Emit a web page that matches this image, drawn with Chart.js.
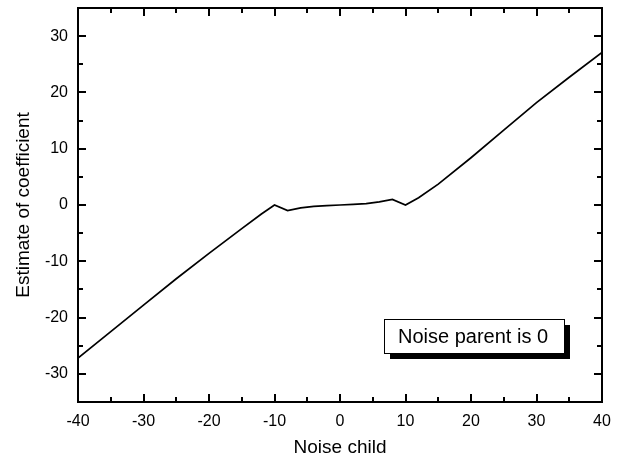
<!DOCTYPE html>
<html>
<head>
<meta charset="utf-8">
<script src="https://cdn.jsdelivr.net/npm/chart.js@4/dist/chart.umd.min.js"></script>
<style>
  html, body { margin: 0; padding: 0; background: #fff; }
  #wrap { width: 619px; height: 459px; }
</style>
</head>
<body>
<div id="wrap"><canvas id="chart" width="619" height="459"></canvas></div>
<script>
const noiseChild = [-40, -35, -30, -25, -20, -15, -12, -10, -8, -6, -4, -2, 0, 2, 4, 6, 8, 10, 12, 15, 20, 25, 30, 35, 40];
const estimate = [-27.2, -22.5, -17.8, -13.1, -8.6, -4.2, -1.6, 0.0, -1.0, -0.5, -0.25, -0.1, 0, 0.1, 0.25, 0.55, 1.0, 0.0, 1.3, 3.7, 8.4, 13.3, 18.2, 22.7, 27.1];
const xTicks = [-40, -30, -20, -10, 0, 10, 20, 30, 40];
const yTicks = [-30, -20, -10, 0, 10, 20, 30];
const xMinor = [-35, -25, -15, -5, 5, 15, 25, 35];
const yMinor = [-25, -15, -5, 5, 15, 25];
const noteText = 'Noise parent is 0';

const font = "'Liberation Sans', Arial, sans-serif";

// frame with inward ticks on all four sides
const framePlugin = {
    id: 'frame',
    afterDatasetsDraw(chart) {
        const ctx = chart.ctx, a = chart.chartArea;
        const xs = chart.scales.x, ys = chart.scales.y;
        ctx.save();
        ctx.strokeStyle = '#000';
        ctx.lineWidth = 2;
        ctx.strokeRect(a.left, a.top, a.right - a.left, a.bottom - a.top);
        ctx.beginPath();
        const tickX = (vals, len) => {
            vals.forEach(v => {
                const px = Math.round(xs.getPixelForValue(v));
                ctx.moveTo(px, a.bottom); ctx.lineTo(px, a.bottom - len);
                ctx.moveTo(px, a.top); ctx.lineTo(px, a.top + len);
            });
        };
        const tickY = (vals, len) => {
            vals.forEach(v => {
                const py = Math.round(ys.getPixelForValue(v));
                ctx.moveTo(a.left, py); ctx.lineTo(a.left + len, py);
                ctx.moveTo(a.right, py); ctx.lineTo(a.right - len, py);
            });
        };
        tickX(xTicks, 8);
        tickX(xMinor, 5);
        tickY(yTicks, 8);
        tickY(yMinor, 5);
        ctx.stroke();

        // note box with shadow
        const bx = 384, by = 319, bw = 180, bh = 34;
        ctx.fillStyle = '#000';
        ctx.fillRect(bx + 6, by + 6, bw, bh);
        ctx.fillStyle = '#fff';
        ctx.fillRect(bx, by, bw, bh);
        ctx.lineWidth = 1;
        ctx.strokeStyle = '#000';
        ctx.strokeRect(bx + 0.5, by + 0.5, bw, bh);
        ctx.fillStyle = '#000';
        ctx.font = '20px ' + font;
        ctx.textBaseline = 'alphabetic';
        ctx.fillText(noteText, bx + 14, by + 24);
        ctx.restore();
    }
};

new Chart(document.getElementById('chart'), {
    type: 'line',
    data: {
        datasets: [{
            data: noiseChild.map((x, i) => ({ x: x, y: estimate[i] })),
            borderColor: '#000',
            borderWidth: 1.7,
            pointRadius: 0,
            tension: 0,
            fill: false
        }]
    },
    options: {
        responsive: false,
        animation: false,
        layout: { padding: { top: 8, right: 17, left: 0, bottom: 0 } },
        plugins: {
            legend: { display: false },
            tooltip: { enabled: false }
        },
        scales: {
            x: {
                type: 'linear',
                min: -40,
                max: 40,
                afterBuildTicks: s => { s.ticks = xTicks.map(v => ({ value: v })); },
                afterFit: s => { s.height = 57; s.paddingLeft = 0; s.paddingRight = 0; },
                grid: { display: false, drawTicks: false },
                border: { display: false },
                ticks: {
                    color: '#000',
                    padding: 10,
                    maxRotation: 0,
                    font: { family: font, size: 16 }
                },
                title: {
                    display: true,
                    text: 'Noise child',
                    color: '#000',
                    font: { family: font, size: 19 },
                    padding: { top: 0, bottom: 0 }
                }
            },
            y: {
                min: -35,
                max: 35,
                afterBuildTicks: s => { s.ticks = yTicks.map(v => ({ value: v })); },
                afterFit: s => { s.width = 78; s.paddingTop = 0; s.paddingBottom = 0; },
                grid: { display: false, drawTicks: false },
                border: { display: false },
                ticks: {
                    color: '#000',
                    padding: 10,
                    font: { family: font, size: 16 }
                },
                title: {
                    display: true,
                    text: 'Estimate of coefficient',
                    color: '#000',
                    font: { family: font, size: 19 },
                    padding: { top: 12, bottom: 0 }
                }
            }
        }
    },
    plugins: [framePlugin]
});
</script>
</body>
</html>
